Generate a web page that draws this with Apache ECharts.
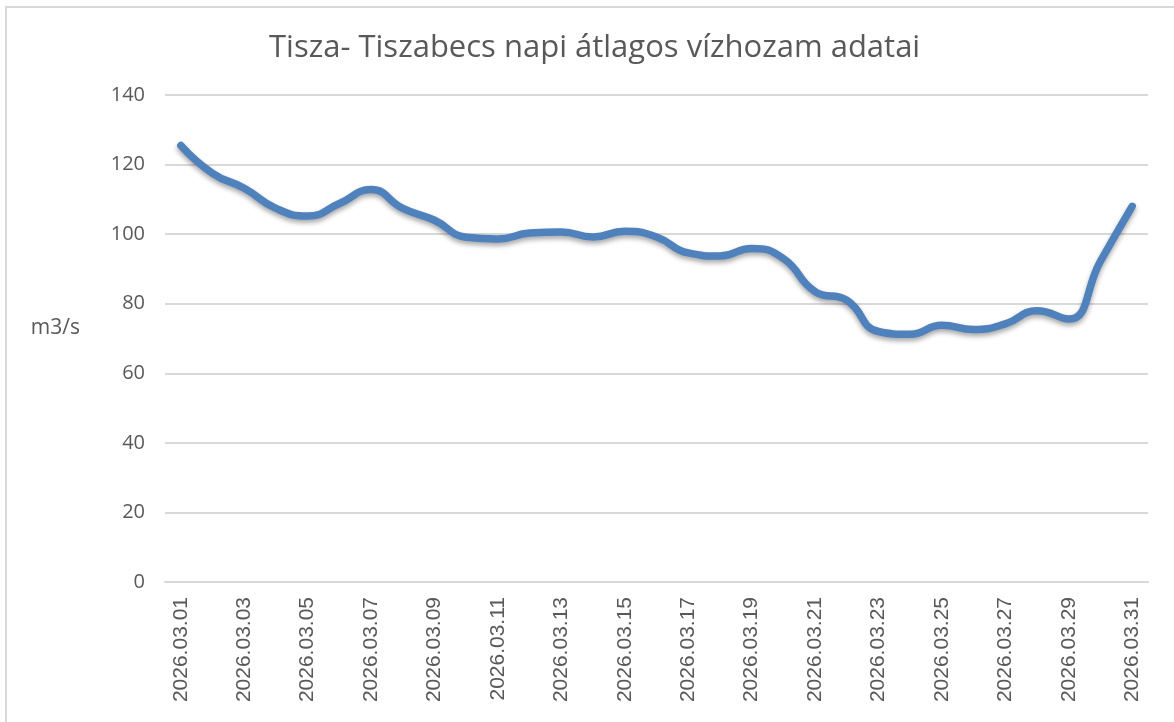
<!DOCTYPE html>
<html>
<head>
<meta charset="utf-8">
<script src="https://cdn.jsdelivr.net/npm/echarts@6/dist/echarts.min.js"></script>
<style>
  html, body { margin: 0; padding: 0; background: #fff; }
  #frame {
    position: absolute; left: 5px; top: 6px; width: 1169px; height: 716px;
    border-left: 2px solid #d9d9d9; border-top: 2px solid #d9d9d9;
  }
  #chart { position: absolute; left: 0; top: 0; width: 1174px; height: 722px; }
</style>
</head>
<body>
<div id="frame"></div>
<div id="chart"></div>
<script>
// napi adatok
const days = []
for (let d = 1; d <= 31; d++) {
  days.push('2026.03.' + (d < 10 ? '0' + d : d))
}
const flow = [
  125.5, 117.5, 113.2, 107.4, 105.2, 108.8, 112.8, 107.4, 104.0, 99.1,
  98.6, 100.3, 100.6, 99.2, 100.8, 99.2, 94.6, 93.7, 95.9, 93.0,
  83.5, 81.0, 72.0, 71.2, 73.8, 72.6, 74.2, 78.0, 75.6, 92.2,
  108.0
]
const yTicks = [0, 20, 40, 60, 80, 100, 120, 140]

const chart = echarts.init(document.getElementById('chart'))
chart.setOption({
  animation: false,
  title: {
    text: 'Tisza- Tiszabecs napi átlagos vízhozam adatai',
    left: 264,
    top: 28,
    textStyle: {
      color: '#595959',
      fontFamily: 'Open Sans',
      fontWeight: 'normal',
      fontSize: 31
    }
  },
  grid: {
    left: 165,
    right: 26,
    top: 95,
    bottom: 140
  },
  xAxis: {
    type: 'category',
    data: days,
    boundaryGap: true,
    axisLine: { lineStyle: { color: '#d9d9d9', width: 2 } },
    axisTick: { interval: 1, length: 7, lineStyle: { color: '#d9d9d9', width: 2 } },
    axisLabel: {
      interval: 1,
      rotate: 90,
      margin: 15,
      color: '#595959',
      fontFamily: 'Liberation Sans',
      fontSize: 21
    }
  },
  yAxis: {
    type: 'value',
    min: yTicks[0],
    max: yTicks[yTicks.length - 1],
    interval: 20,
    name: 'm3/s',
    nameLocation: 'middle',
    nameRotate: 0,
    nameGap: 85,
    nameTextStyle: {
      color: '#595959',
      fontFamily: 'Open Sans',
      fontSize: 21,
      verticalAlign: 'bottom'
    },
    axisLine: { show: false },
    axisTick: { show: false },
    axisLabel: {
      margin: 20,
      color: '#595959',
      fontFamily: 'Open Sans',
      fontSize: 20
    },
    splitLine: { lineStyle: { color: '#d9d9d9', width: 2 } }
  },
  series: [
    {
      name: 'vízhozam',
      type: 'line',
      data: flow,
      smooth: 0.5,
      showSymbol: false,
      lineStyle: {
        color: '#4f81bd',
        width: 7.5,
        cap: 'round',
        shadowColor: 'rgba(0,0,0,0.35)',
        shadowBlur: 5,
        shadowOffsetY: 3
      }
    }
  ]
})
</script>
</body>
</html>
